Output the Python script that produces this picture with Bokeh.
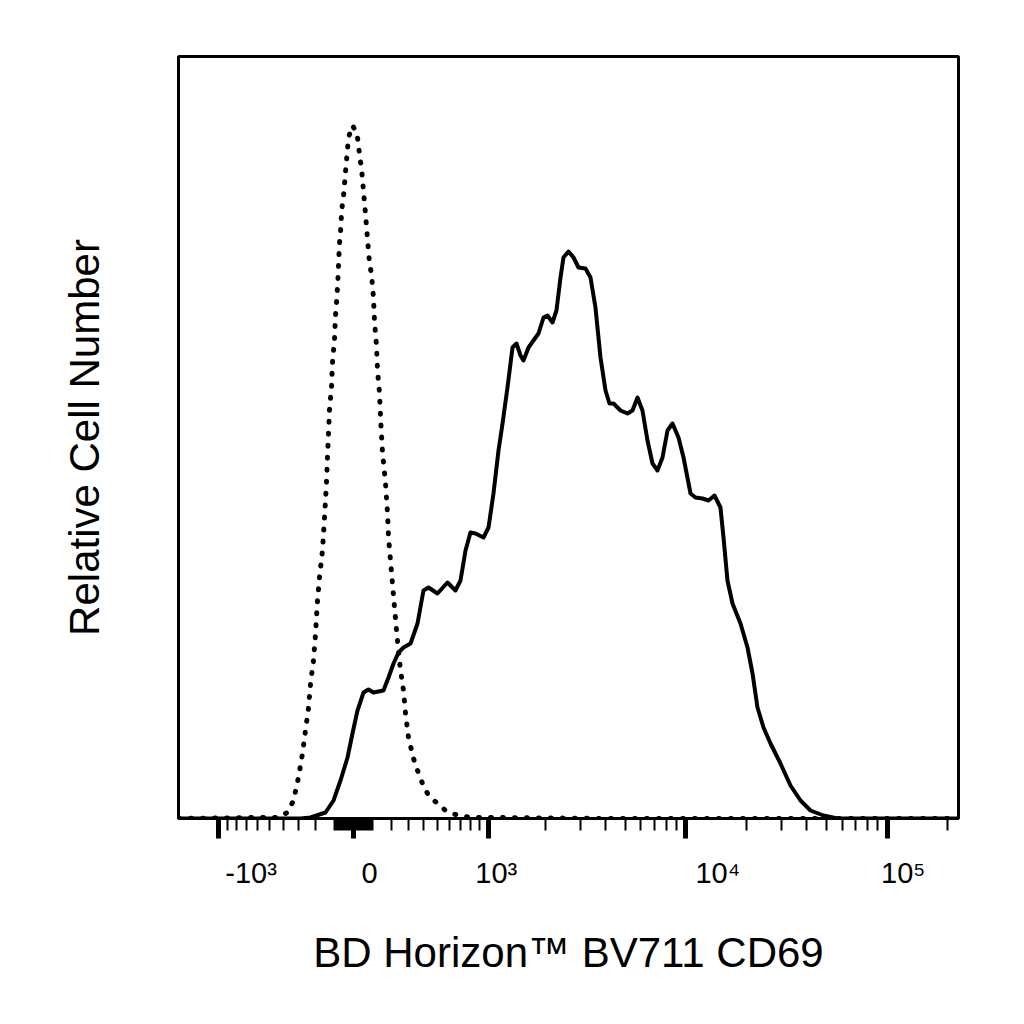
import numpy as np
from bokeh.plotting import figure
from bokeh.models import FixedTicker, Range1d, ColumnDataSource
from bokeh.embed import file_html
from bokeh.resources import INLINE

# ---------------- data (histogram channel 0-1024, event counts) ----------------
isotype_channel = [0, 107.6, 130, 143.1, 151, 157.5, 162.8, 166.7, 170.7, 173.3, 177.2,
                   179.9, 182.5, 185.1, 189, 191.7, 194.3, 195.6, 196.9, 198.2, 200.9,
                   202.2, 204.8, 206.1, 207.4, 209.3, 210.6, 211.4, 212.7, 213.6, 214.5,
                   216.6, 217.9, 219.2, 220.6, 221.9, 223.2, 228.4, 233.7, 236.3, 237.6,
                   240.2, 241.6, 242.9, 245.5, 248.1, 250.7, 253.4, 256, 257.3, 259.9,
                   261.2, 263.9, 265.2, 267.8, 271.8, 274.4, 275.7, 278.3, 280.9, 283.6,
                   286.2, 288.8, 291.4, 295.4, 298, 301.9, 308.5, 313.8, 320.3, 328.2,
                   340, 350.5, 363.6, 383.3, 422.7, 488.4, 554, 1024]
isotype_count = [0, 1, 1, 6, 18, 41, 65, 88, 111, 135, 158,
                 185, 218, 241, 268, 301, 336, 361, 385, 408, 432,
                 456, 479, 503, 515, 539, 563, 575, 586, 599, 610,
                 622, 634, 646, 658, 670, 681, 693, 686, 675, 663,
                 651, 639, 627, 604, 580, 556, 544, 520, 497, 473,
                 449, 425, 401, 366, 335, 305, 281, 258, 235, 211,
                 188, 168, 148, 128, 105, 81, 60, 48, 35, 23,
                 15, 8, 4, 1, 1, 0.5, 0, 0]

cd69_channel = [0, 160.2, 173.3, 193, 203.5, 212.7, 221.9, 228.4, 235, 242.9, 249.4,
                256, 269.1, 275.7, 282.3, 288.8, 295.4, 304.6, 313.8, 321.6, 328.2,
                340, 353.1, 363.6, 370.2, 376.8, 383.3, 389.9, 400.4, 407, 413.5,
                420.1, 425.4, 431.9, 438.5, 443.7, 449, 452.9, 459.5, 466, 472.6,
                479.2, 484.4, 491, 496.2, 501.5, 505.4, 512, 518.6, 525.1, 534.3,
                540.9, 547.4, 554, 560.6, 565.8, 571.1, 580.3, 589.5, 596, 602.6,
                609.1, 615.7, 622.3, 628.8, 635.4, 642, 648.5, 656.4, 663, 672.2,
                678.7, 687.9, 695.8, 703.7, 711.5, 715.5, 720.7, 727.3, 737.8, 747,
                753.6, 760.1, 768, 777.2, 790.3, 803.4, 816.6, 829.7, 846.8, 865.2, 1024]
cd69_count = [0, 0, 1, 6, 18, 38, 61, 85, 108, 126, 129,
              126, 128, 141, 155, 166, 171, 175, 195, 228, 231,
              225, 236, 228, 238, 268, 286, 285, 281, 291, 325,
              368, 395, 431, 471, 475, 463, 458, 471, 478, 485,
              501, 503, 496, 508, 541, 561, 567, 561, 551, 550,
              541, 511, 461, 428, 415, 415, 408, 405, 408, 421,
              408, 378, 355, 348, 361, 388, 395, 381, 361, 325,
              321, 320, 318, 323, 311, 281, 238, 215, 195, 171,
              145, 111, 91, 75, 55, 33, 18, 8, 3, 0, 0]

major_values = [-1000, 0, 1000, 10000, 100000]
major_labels = ["-10\u00b3", "0", "10\u00b3", "10\u2074", "10\u2075"]
minor_values = ([-v for v in range(100, 1000, 100)] + [-v for v in range(10, 100, 10)] +
                list(range(10, 100, 10)) + list(range(100, 1000, 100)) +
                list(range(2000, 10000, 1000)) + list(range(20000, 100000, 10000)) +
                [200000])
x_label = "BD Horizon\u2122 BV711 CD69"
y_label = "Relative Cell Number"

# biexponential display transform (value -> channel)
T_WIDTH = 450.0
T_SCALE = 114.9
T_ZERO = 229.7


def to_channel(v):
    return round(float(T_ZERO + T_SCALE * np.arcsinh(float(v) / T_WIDTH)), 3)


major_ticks = [to_channel(v) for v in major_values]
minor_ticks = [to_channel(v) for v in minor_values]

# the cytometry software writes its tick labels starting at the tick, not centred on it
FIG_SPACE = "\u2007"
label_pad = [4, 2, 1, 4, 2]

p = figure(frame_width=780, frame_height=762, output_backend="svg", toolbar_location=None,
           x_range=Range1d(0, 1024), y_range=Range1d(0, 762),
           min_border_left=178, min_border_right=40, min_border_top=56, min_border_bottom=182,
           background_fill_color="white", border_fill_color="white")
p.grid.visible = False
p.outline_line_color = "black"
p.outline_line_width = 3

src_iso = ColumnDataSource(dict(x=isotype_channel, y=isotype_count))
src_cd = ColumnDataSource(dict(x=cd69_channel, y=cd69_count))
p.line("x", "y", source=src_iso, line_color="black", line_width=5,
       line_dash="1 11", line_cap="round")
p.line("x", "y", source=src_cd, line_color="black", line_width=4, line_join="round")

xa = p.xaxis[0]
xa.ticker = FixedTicker(ticks=major_ticks, minor_ticks=minor_ticks)
xa.major_label_overrides = {t: FIG_SPACE * n + lab
                            for t, lab, n in zip(major_ticks, major_labels, label_pad)}
xa.axis_line_width = 3
xa.major_tick_line_width = 5
xa.major_tick_out = 20
xa.major_tick_in = 0
xa.minor_tick_line_width = 2
xa.minor_tick_out = 12
xa.minor_tick_in = 0
xa.major_label_text_font = "Liberation Sans Narrow, Liberation Sans, Arial"
xa.major_label_text_font_size = "29px"
xa.major_label_text_color = "black"
xa.major_label_standoff = 18
xa.axis_label = x_label
xa.axis_label_text_font = "Liberation Sans, Arial"
xa.axis_label_text_font_size = "42px"
xa.axis_label_text_font_style = "normal"
xa.axis_label_text_color = "black"
xa.axis_label_standoff = 37

ya = p.yaxis[0]
ya.ticker = FixedTicker(ticks=[])
ya.axis_line_width = 3
ya.major_tick_line_color = None
ya.minor_tick_line_color = None
ya.axis_label = y_label
ya.axis_label_text_font = "Liberation Sans, Arial"
ya.axis_label_text_font_size = "42px"
ya.axis_label_text_font_style = "normal"
ya.axis_label_text_color = "black"
ya.axis_label_standoff = 71

open("out.html", "w").write(file_html(p, INLINE))
